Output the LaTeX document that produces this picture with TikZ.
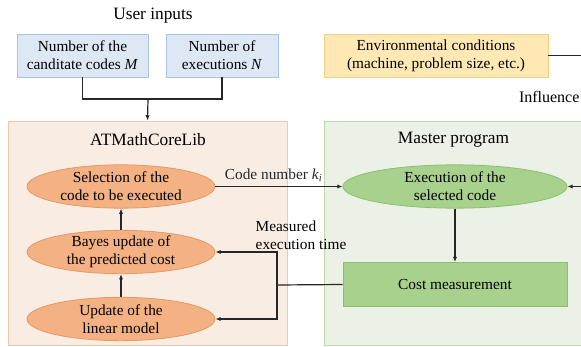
\documentclass[tikz,border=0pt]{standalone}
\usepackage{fontspec}
\setmainfont{Liberation Serif}
\usetikzlibrary{shapes.geometric,arrows.meta}
\definecolor{bluefill}{HTML}{DEE8F4}
\definecolor{blueline}{HTML}{A9C4E6}
\definecolor{envfill}{HTML}{FFE8B4}
\definecolor{envline}{HTML}{F6D07C}
\definecolor{libfill}{HTML}{F9ECE3}
\definecolor{libline}{HTML}{F3C8A8}
\definecolor{ovalfill}{HTML}{F4B183}
\definecolor{ovalline}{HTML}{E39A63}
\definecolor{masterfill}{HTML}{EBF1E6}
\definecolor{masterline}{HTML}{BCDCA6}
\definecolor{greenfill}{HTML}{A9D18E}
\definecolor{greenline}{HTML}{8CBF6C}
\begin{document}
\begin{tikzpicture}[x=0.75pt,y=-0.75pt,
    every node/.style={font=\fontsize{11.5}{13.5}\selectfont},
    title/.style={font=\fontsize{13}{15}\selectfont},
    inbox/.style={rectangle,draw=blueline,fill=bluefill,line width=0.6pt,align=center,minimum height=32.25pt,inner sep=0pt},
    region/.style={rectangle,line width=0.6pt,inner sep=0pt,minimum height=168pt},
    oval/.style={ellipse,draw=ovalline,fill=ovalfill,line width=0.6pt,align=center,minimum width=141pt,minimum height=32.5pt,inner xsep=0pt,inner ysep=-1pt},
    link/.style={line width=0.9pt,black!85},
    arr/.style={link,-{Latex[length=4pt,width=3.2pt]}}]
    \clip (0,0) rectangle (581,346);

    % user inputs
    \node[title] (user) at (153,16) {User inputs};
    \node[inbox,minimum width=98.25pt] (numM) at (82.5,55.5) {Number of the\\canditate codes \textit{M}};
    \node[inbox,minimum width=84pt] (numN) at (222,55.5) {Number of\\executions \textit{N}};
    \node[inbox,draw=envline,fill=envfill,minimum width=168pt] (env) at (436,55.5) {Environmental conditions\\(machine, problem size, etc.)};
    \node[font=\fontsize{12}{14}\selectfont,anchor=east,inner xsep=1pt] (infl) at (581,97) {Influence};

    % the two blocks
    \node[region,draw=libline,fill=libfill,minimum width=209.25pt] (lib) at (147.5,233) {};
    \node[region,draw=masterline,fill=masterfill,minimum width=207pt] (master) at (462,233) {};
    \node[title] (libname) at (148,140) {ATMathCoreLib};
    \node[title] (mastername) at (453.5,140) {Master program};

    \node[oval] (select) at (121,186.5) {Selection of the\\code to be executed};
    \node[oval] (bayes) at (121,252) {Bayes update of\\the predicted cost};
    \node[oval] (linear) at (121,319) {Update of the\\linear model};

    \node[oval,draw=greenline,fill=greenfill,minimum width=168pt] (exec) at (455,186.5) {Execution of the\\selected code};
    \node[rectangle,draw=greenline,fill=greenfill,line width=0.6pt,minimum width=168pt,minimum height=33pt] (cost) at (455,284.5) {Cost measurement};

    \node[anchor=west,align=left] (meas) at (251,235) {Measured\\execution time};

    \coordinate (join) at (148,99);
    \coordinate (fb) at (277,285);
    \coordinate (envout) at (590,55.5);
    \coordinate (execin) at (590,186.5);

    \draw[link] (numM.south) |- (join);
    \draw[link] (numN.south) |- (join);
    \draw[arr] (join) -- (lib.north);
    \draw[link] (env.east) -- (envout);
    \draw[arr] (execin) -- (exec.east);

    \draw[arr] (linear) -- (bayes);
    \draw[arr] (bayes) -- (select);
    \draw[arr] (select.east) -- node[above,xshift=-4pt] {Code number \textit{k}\textsubscript{\textit{i}}} (exec.west);
    \draw[arr] (exec) -- (cost);
    \draw[link] (cost.west) -- (fb);
    \draw[arr] (fb) |- (bayes.east);
    \draw[arr] (fb) |- (linear.east);
\end{tikzpicture}
\end{document}
